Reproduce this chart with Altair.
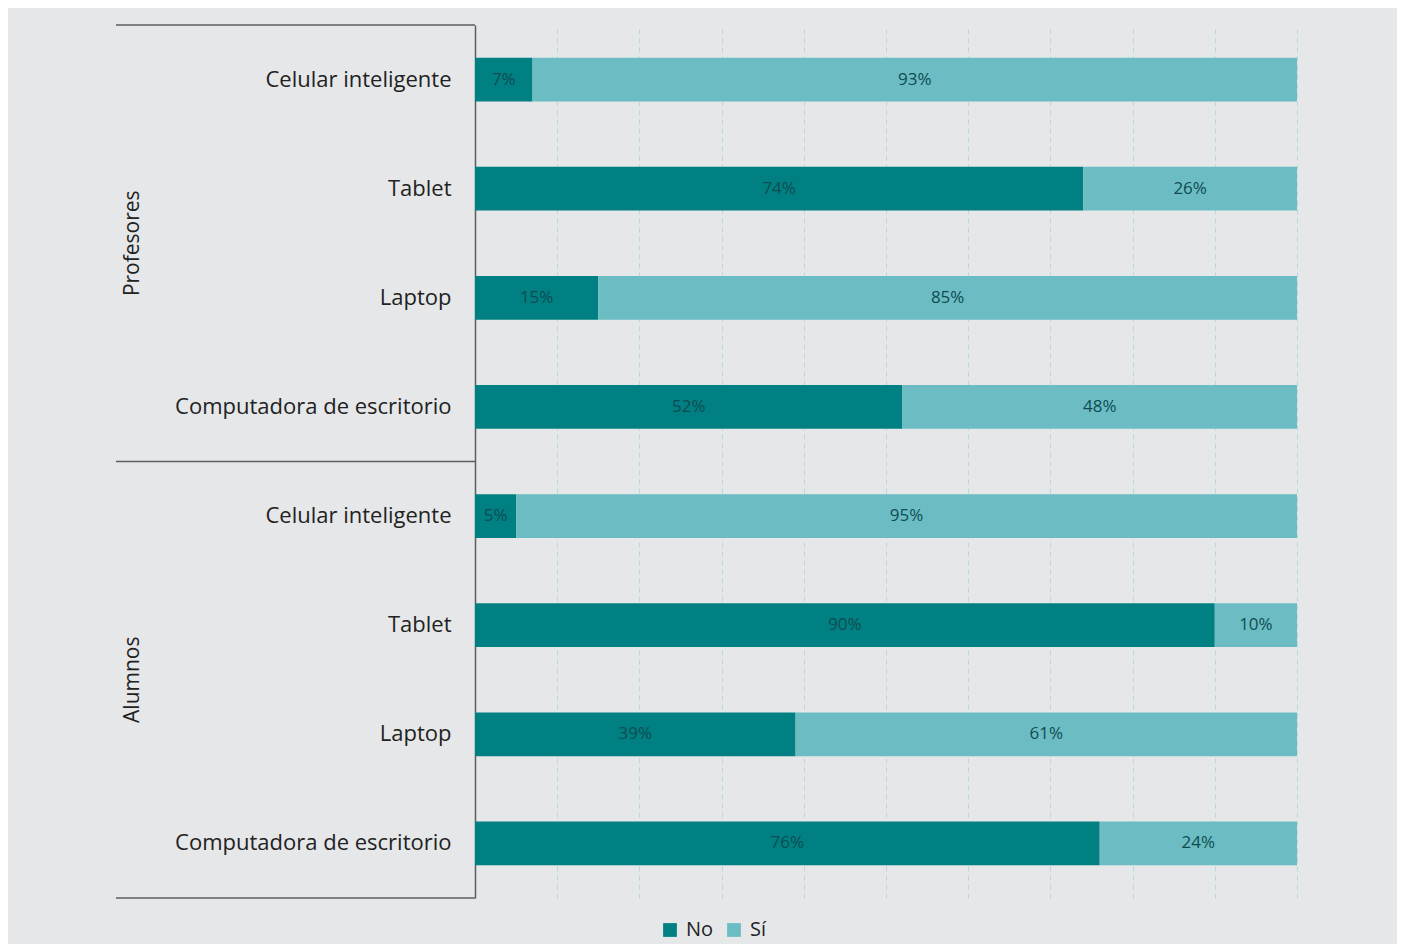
import altair as alt
import pandas as pd

groups = ["Profesores", "Profesores", "Profesores", "Profesores",
          "Alumnos", "Alumnos", "Alumnos", "Alumnos"]
devices = ["Celular inteligente", "Tablet", "Laptop", "Computadora de escritorio",
           "Celular inteligente", "Tablet", "Laptop", "Computadora de escritorio"]
no_vals = [7, 74, 15, 52, 5, 90, 39, 76]
si_vals = [93, 26, 85, 48, 95, 10, 61, 24]
responses = ["No", "Sí"]
colors = ["#008082", "#6bbdc3"]
group_order = ["Profesores", "Alumnos"]

rows = []
keys = []
for g, d, n, s in zip(groups, devices, no_vals, si_vals):
    k = f"{g}|{d}"
    keys.append(k)
    start = 0
    for r, v in zip(responses, [n, s]):
        rows.append({"key": k, "group": g, "device": d, "resp": r,
                     "start": start, "end": start + v, "mid": start + v / 2,
                     "label": f"{v}%"})
        start += v
df = pd.DataFrame(rows)
gdf = pd.DataFrame({"group": group_order})

FONT = "Open Sans"
yscale = alt.Scale(domain=keys, paddingInner=0.6, paddingOuter=0.3)
gscale = alt.Scale(domain=group_order, paddingInner=0, paddingOuter=0)
xscale = alt.Scale(domain=[0, 100], nice=False)

bars = alt.Chart(df).mark_bar().encode(
    x=alt.X("start:Q", scale=xscale,
            axis=alt.Axis(title=None, labels=False, ticks=False, domain=False,
                          grid=True, gridDash=[5, 4], gridColor="#b5dadd",
                          gridWidth=1, values=list(range(0, 101, 10)))),
    x2="end:Q",
    y=alt.Y("key:N", scale=yscale, sort=keys,
            axis=alt.Axis(title=None, ticks=False, grid=False,
                          labelExpr="split(datum.label,'|')[1]",
                          domainColor="#5a5f60", domainWidth=1.5,
                          labelFontSize=22, labelColor="#222222",
                          labelFont=FONT, labelPadding=24, labelLimit=400)),
    color=alt.Color("resp:N", scale=alt.Scale(domain=responses, range=colors),
                    legend=alt.Legend(title=None, orient="none", legendX=185,
                                      legendY=895, direction="horizontal",
                                      symbolType="square", symbolSize=190,
                                      symbolStrokeWidth=0, labelFontSize=20,
                                      labelFont=FONT, labelColor="#222222",
                                      columnPadding=10, labelOffset=6)),
)

labels = alt.Chart(df).mark_text(font=FONT, fontSize=17, color="#0f4c51").encode(
    x=alt.X("mid:Q", scale=xscale),
    y=alt.Y("key:N", scale=yscale, sort=keys, axis=None),
    text="label:N",
)

glabels = alt.Chart(gdf).mark_text(font=FONT, fontSize=21, color="#222222",
                                   angle=270, align="center", baseline="middle").encode(
    x=alt.value(-342),
    y=alt.Y("group:N", scale=gscale, sort=group_order, axis=None),
    text="group:N",
)

rules_top = alt.Chart(gdf).mark_rule(color="#5a5f60", strokeWidth=1.5).encode(
    x=alt.value(-359), x2=alt.value(0),
    y=alt.Y("group:N", scale=gscale, sort=group_order, axis=None, bandPosition=0),
)

rules_bottom = alt.Chart(gdf).transform_filter(
    alt.datum.group == "Alumnos").mark_rule(color="#5a5f60", strokeWidth=1.5).encode(
    x=alt.value(-359), x2=alt.value(0),
    y=alt.Y("group:N", scale=gscale, sort=group_order, axis=None, bandPosition=1),
)

chart = alt.layer(bars, labels, glabels, rules_top, rules_bottom).resolve_scale(
    y="independent"
).properties(
    width=822, height=873,
    autosize=alt.AutoSizeParams(type="none"),
    padding={"left": 467, "top": 17, "right": 100, "bottom": 46},
    background="#e6e7e9",
).configure_view(stroke=None)

chart.save("out.html", embed_options={"renderer": "svg", "actions": False})
